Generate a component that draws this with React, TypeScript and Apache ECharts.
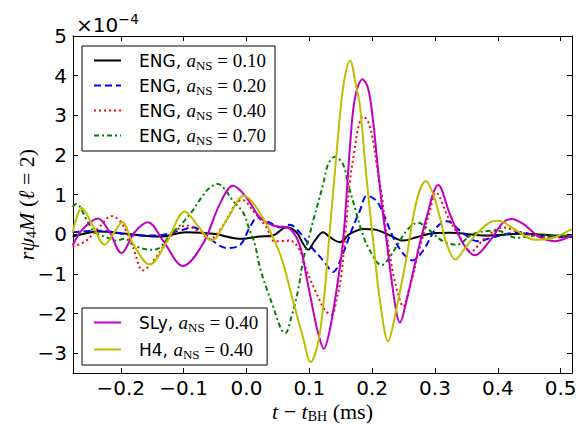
import React, { useEffect, useRef } from "react";
import * as echarts from "echarts";

// ---- data (values in units of 1e-4) ----
const eng010X = [-0.2766, -0.2336, -0.1911, -0.138, -0.0955, -0.0532, -0.008, 0.021, 0.0424, 0.0637, 0.0796, 0.0901, 0.0981, 0.1088, 0.122, 0.1326, 0.1486, 0.1646, 0.1857, 0.207, 0.2282, 0.2494, 0.2707, 0.2971, 0.3237, 0.3822, 0.4352, 0.4882, 0.518];
const eng010Y = [-0.06, 0.07, 0.01, -0.06, 0.05, 0.01, -0.115, -0.06, -0.03, 0.175, 0.05, -0.24, -0.39, -0.16, 0.05, -0.075, -0.2, 0.01, 0.135, 0.11, -0.03, -0.16, -0.075, 0.025, 0.035, -0.03, 0.01, -0.03, -0.06];

const eng020X = [-0.2766, -0.2336, -0.1752, -0.1433, -0.1062, -0.085, -0.0584, -0.0318, -0.0107, 0.0053, 0.018, 0.0371, 0.053, 0.069, 0.0849, 0.1008, 0.122, 0.1379, 0.1513, 0.1672, 0.1804, 0.1916, 0.207, 0.2202, 0.2334, 0.2494, 0.264, 0.2812, 0.3025, 0.319, 0.3397, 0.3683, 0.3927, 0.4352, 0.4618, 0.5041, 0.518];
const eng020Y = [0.05, 0.09, -0.03, -0.03, 0.09, 0.175, -0.11, -0.345, -0.28, 0.175, 0.425, 0.29, 0.175, 0.24, 0.04, -0.28, -0.66, -0.95, -0.575, 0.09, 0.59, 0.97, 0.84, 0.425, -0.075, -0.49, -0.66, -0.41, 0.175, 0.33, 0.09, -0.18, -0.075, 0.05, -0.03, -0.075, -0.06];

const eng040X = [-0.2766, -0.2548, -0.2336, -0.2145, -0.199, -0.1806, -0.1646, -0.1433, -0.1221, -0.0955, -0.0744, -0.0584, -0.0373, -0.0159, -0.0054, 0.0105, 0.0318, 0.0451, 0.069, 0.0849, 0.0955, 0.1115, 0.1247, 0.1354, 0.1433, 0.1513, 0.1592, 0.1646, 0.1725, 0.1777, 0.1857, 0.1936, 0.2016, 0.207, 0.215, 0.2229, 0.2334, 0.2441, 0.2494, 0.26, 0.276, 0.2919, 0.3014, 0.321, 0.3397, 0.3572, 0.3795, 0.4081, 0.4352, 0.4777, 0.518];
const eng040Y = [-0.32, -0.16, 0.19, 0.455, 0.29, -0.325, -0.91, -0.575, -0.075, 0.22, 0.05, -0.115, 0.22, 0.8, 0.86, 0.59, 0.175, -0.18, -0.16, -0.41, -0.91, -1.49, -1.91, -2.03, -1.66, -0.99, 0.34, 1.34, 2.175, 2.675, 2.97, 2.84, 2.34, 1.76, 1.01, 0.01, -0.99, -1.66, -1.825, -1.325, -0.325, 0.59, 1.05, 0.425, -0.075, -0.43, -0.095, 0.17, 0.05, -0.075, -0.06];

const eng070X = [-0.2766, -0.2707, -0.2522, -0.2416, -0.2204, -0.207, -0.1938, -0.1752, -0.1513, -0.138, -0.1221, -0.101, -0.085, -0.0717, -0.0584, -0.0452, -0.0346, -0.0213, -0.0054, 0.0053, 0.0132, 0.0212, 0.0318, 0.0424, 0.0557, 0.0618, 0.0717, 0.0822, 0.0901, 0.0981, 0.1061, 0.114, 0.122, 0.1299, 0.1406, 0.1538, 0.1618, 0.1725, 0.1831, 0.1963, 0.215, 0.2282, 0.2441, 0.2573, 0.2728, 0.2919, 0.3131, 0.3344, 0.3608, 0.3981, 0.4299, 0.467, 0.518];
const eng070Y = [0.69, 0.76, 0.3, 0.05, -0.09, -0.16, -0.115, -0.31, -0.39, -0.34, -0.03, 0.3, 0.61, 0.925, 1.175, 1.27, 1.135, 0.84, 0.55, 0.09, -0.24, -0.825, -1.36, -1.825, -2.41, -2.495, -2.075, -1.41, -0.66, -0.16, 0.34, 0.79, 1.26, 1.76, 1.955, 1.76, 1.26, 0.675, 0.09, -0.41, -0.78, -0.575, -0.16, 0.135, 0.29, 0.09, -0.18, -0.265, 0.01, 0.09, -0.09, -0.03, -0.03];

const slyX = [-0.2766, -0.2602, -0.2363, -0.2177, -0.199, -0.1779, -0.1567, -0.1328, -0.101, -0.0691, -0.0425, -0.0213, 0.0, 0.0212, 0.0424, 0.069, 0.0849, 0.0955, 0.106, 0.114, 0.1231, 0.1326, 0.1433, 0.1538, 0.1646, 0.1725, 0.1847, 0.1936, 0.2016, 0.2096, 0.2166, 0.2229, 0.2309, 0.2389, 0.2441, 0.2548, 0.2707, 0.2866, 0.3051, 0.3237, 0.3449, 0.3635, 0.3874, 0.4086, 0.422, 0.4404, 0.467, 0.4909, 0.5175];
const slyY = [-0.28, 0.135, 0.4, 0.05, -0.475, 0.05, 0.3, -0.16, -0.8, -0.24, 0.76, 1.22, 0.925, 0.425, 0.22, 0.135, -0.28, -1.075, -1.91, -2.49, -2.89, -2.41, -1.41, -0.16, 2.175, 3.425, 3.91, 3.675, 2.84, 1.59, 0.59, -0.16, -1.16, -1.99, -2.225, -1.66, -0.575, 0.425, 1.24, 0.51, -0.24, -0.53, -0.16, 0.3, 0.385, 0.26, -0.075, -0.175, -0.03];

const h4X = [-0.2766, -0.2618, -0.244, -0.2256, -0.2115, -0.1975, -0.1805, -0.154, -0.127, -0.098, -0.077, -0.0557, -0.03, -0.0043, 0.021, 0.053, 0.0737, 0.0896, 0.1024, 0.1135, 0.1231, 0.1326, 0.1422, 0.1502, 0.1565, 0.1646, 0.1752, 0.1804, 0.191, 0.2016, 0.2123, 0.2255, 0.2361, 0.2548, 0.2707, 0.2855, 0.2971, 0.3078, 0.3185, 0.3328, 0.345, 0.3662, 0.3874, 0.4006, 0.43, 0.459, 0.488, 0.518];
const h4Y = [0.04, 0.66, 0.2, -0.265, 0.02, 0.3, -0.24, -0.765, -0.2, 0.575, 0.21, -0.16, 0.4, 0.97, 0.55, -0.48, -1.66, -2.575, -3.225, -2.78, -1.66, 0.09, 1.84, 3.22, 3.97, 4.385, 3.675, 3.26, 1.425, -0.16, -1.66, -2.7, -2.075, -0.575, 0.84, 1.34, 1.01, 0.425, -0.24, -0.64, -0.41, 0.01, 0.3, 0.34, 0.09, -0.14, -0.09, 0.135];

const seriesEos = ["ENG", "ENG", "ENG", "ENG", "SLy", "H4"];
const seriesSpin = ["0.10", "0.20", "0.40", "0.70", "0.40", "0.40"];
const seriesXs = [eng010X, eng020X, eng040X, eng070X, slyX, h4X];
const seriesYs = [eng010Y, eng020Y, eng040Y, eng070Y, slyY, h4Y];

const X_MIN = -0.276;
const X_MAX = 0.518;
const Y_MIN = -3.5;
const Y_MAX = 5;

// ---- styles ----
const seriesColors = ["#000000", "#0000ff", "#ff0000", "#008000", "#bf00bf", "#bfbf00"];
const seriesDash: any[] = ["solid", [7, 4], [2, 3], [5, 3, 2, 3], "solid", "solid"];

const SANS = "'DejaVu Sans', sans-serif";
const SERIF = "'Liberation Serif', 'DejaVu Serif', serif";

const zip = (xs: number[], ys: number[]) => {
  const n = Math.min(xs.length, ys.length);
  const out: number[][] = [];
  for (let i = 0; i < n; i++) out.push([xs[i], ys[i]]);
  return out;
};

const names = seriesEos.map((e, i) => `${e}, a_NS = ${seriesSpin[i]}`);

const legendRich = {
  sp: { width: 13, fontSize: 12 },
  s: { fontFamily: SANS, fontSize: 17, color: "#000", lineHeight: 20 },
  mi: { fontFamily: SERIF, fontStyle: "italic", fontSize: 19, color: "#000", lineHeight: 20 },
  m: { fontFamily: SERIF, fontSize: 19, color: "#000", lineHeight: 20 },
  sub: { fontFamily: SERIF, fontSize: 13, color: "#000", lineHeight: 6, padding: [10, 0, 0, 0] },
};

const axisRich = {
  mi: { fontFamily: SERIF, fontStyle: "italic", fontSize: 22, color: "#000", lineHeight: 20 },
  m: { fontFamily: SERIF, fontSize: 22, color: "#000", lineHeight: 20 },
  sub: { fontFamily: SERIF, fontSize: 14, color: "#000", lineHeight: 6, padding: [11, 0, 0, 0] },
};

const fmtMinus = (s: string) => s.replace("-", "\u2212");

export default function App() {
  const ref = useRef<HTMLDivElement>(null);
  useEffect(() => {
    if (!ref.current) return;
    const chart = echarts.init(ref.current, null, { renderer: "svg" });
    const legendFormatter = (name: string) => {
      const i = names.indexOf(name);
      return `{sp| }{s|${seriesEos[i]}, }{mi|a}{sub|NS}{m| = ${seriesSpin[i]}}`;
    };
    const common = {
      type: "value",
      splitLine: { show: false },
      axisLine: { onZero: false, lineStyle: { color: "#000", width: 1 } },
      axisTick: { inside: true, length: 5, lineStyle: { color: "#000", width: 1 } },
    };
    const option: any = {
      animation: false,
      backgroundColor: "#fff",
      grid: { left: 73, right: 7, top: 36, bottom: 51, containLabel: false, outerBoundsMode: "none" },
      xAxis: [
        {
          ...common,
          position: "bottom",
          min: X_MIN,
          max: X_MAX,
          minInterval: 0.1,
          maxInterval: 0.1,
          splitNumber: 8,
          axisLabel: {
            color: "#000",
            fontFamily: SANS,
            fontSize: 20,
            lineHeight: 18,
            margin: 6,
            formatter: (v: number) => {
              if (Math.abs(v * 10 - Math.round(v * 10)) > 1e-6) return "";
              if (Math.abs(v) < 1e-9) return "0.0";
              return fmtMinus(v.toFixed(1));
            },
          },
          name: "{mi|t}{m| \u2212 }{mi|t}{sub|BH}{m| (ms)}",
          nameLocation: "middle",
          nameGap: 28,
          nameMoveOverlap: false,
          nameTextStyle: { rich: axisRich },
        },
        {
          ...common,
          position: "top",
          min: X_MIN,
          max: X_MAX,
          minInterval: 0.1,
          maxInterval: 0.1,
          splitNumber: 8,
          axisLabel: { show: false },
        },
      ],
      yAxis: [
        {
          ...common,
          position: "left",
          min: Y_MIN,
          max: Y_MAX,
          minInterval: 1,
          maxInterval: 1,
          splitNumber: 8,
          axisLabel: {
            color: "#000",
            fontFamily: SANS,
            fontSize: 20,
            margin: 6,
            formatter: (v: number) => {
              if (Math.abs(v - Math.round(v)) > 1e-6) return "";
              return fmtMinus(String(Math.round(v)));
            },
          },
          name: "{mi|r\u03c8}{sub|4}{mi|M}{m| (}{mi|\u2113}{m| = 2)}",
          nameLocation: "middle",
          nameRotate: 90,
          nameGap: 37,
          nameMoveOverlap: false,
          nameTextStyle: { rich: axisRich },
        },
        {
          ...common,
          position: "right",
          min: Y_MIN,
          max: Y_MAX,
          minInterval: 1,
          maxInterval: 1,
          splitNumber: 8,
          axisLabel: { show: false },
        },
      ],
      legend: [
        {
          data: names.slice(0, 4),
          orient: "vertical",
          left: 82,
          top: 46,
          padding: [3, 9, 4, 11],
          itemWidth: 27,
          itemHeight: 14,
          itemGap: 2,
          borderColor: "#000",
          borderWidth: 1,
          borderRadius: 0,
          backgroundColor: "#fff",
          selectedMode: false,
          itemStyle: { opacity: 0 },
          formatter: legendFormatter,
          textStyle: { rich: legendRich, color: "#000" },
        },
        {
          data: names.slice(4),
          orient: "vertical",
          left: 82,
          top: 308,
          padding: [3, 9, 4, 11],
          itemWidth: 27,
          itemHeight: 14,
          itemGap: 4,
          borderColor: "#000",
          borderWidth: 1,
          borderRadius: 0,
          backgroundColor: "#fff",
          selectedMode: false,
          itemStyle: { opacity: 0 },
          formatter: legendFormatter,
          textStyle: { rich: legendRich, color: "#000" },
        },
      ],
      graphic: [
        {
          type: "text",
          left: 76,
          top: 12,
          style: {
            text: "{m|\u00d710}{sup|\u22124}",
            rich: {
              m: { fontFamily: SANS, fontSize: 20, lineHeight: 26, fill: "#000" },
              sup: { fontFamily: SANS, fontSize: 14, lineHeight: 14, verticalAlign: "top", fill: "#000" },
            },
          },
        },
      ],
      series: names.map((n, i) => ({
        name: n,
        type: "line",
        data: zip(seriesXs[i], seriesYs[i]),
        xAxisIndex: 0,
        yAxisIndex: 0,
        symbol: "none",
        smooth: 0.35,
        clip: true,
        lineStyle: { color: seriesColors[i], width: 2, type: seriesDash[i] },
        itemStyle: { color: seriesColors[i] },
        z: 2 + i,
      })),
    };
    chart.setOption(option);
    return () => chart.dispose();
  }, []);
  return <div ref={ref} style={{ position: "fixed", left: 0, top: 0, width: 579, height: 424 }} />;
}
